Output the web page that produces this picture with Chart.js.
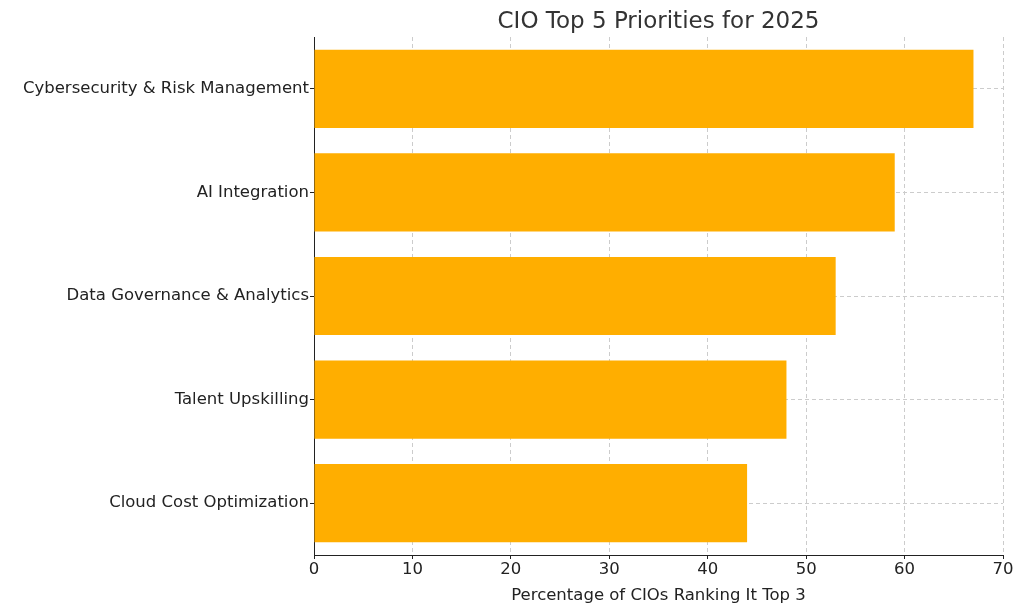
<!DOCTYPE html>
<html><head><meta charset="utf-8">
<script src="https://cdn.jsdelivr.net/npm/chart.js@4"></script>
<style>html,body{margin:0;padding:0;background:#fff}#w{width:1024px;height:610px}</style>
</head><body><div id="w"><canvas id="c"></canvas></div>
<script>
const categories = ["Cybersecurity & Risk Management","AI Integration","Data Governance & Analytics","Talent Upskilling","Cloud Cost Optimization"];
const values = [67, 59, 53, 48, 44];
const xTicks = [0,10,20,30,40,50,60,70];
const chartTitle = 'CIO Top 5 Priorities for 2025';
const F = "'DejaVu Sans', sans-serif";
const titlePlugin = { id: 'tp', afterDraw(ch) {
  const c = ch.ctx, a = ch.chartArea;
  c.save(); c.font = "23px " + F; c.fillStyle = '#333'; c.textAlign = 'center'; c.textBaseline = 'alphabetic';
  c.fillText(chartTitle, (a.left + a.right) / 2, 28); c.restore(); } };
new Chart(document.getElementById('c'), {
  type: 'bar',
  data: { labels: categories, datasets: [{ data: values, backgroundColor: '#FFAE00', borderWidth: 0, categoryPercentage: 0.755, barPercentage: 1 }] },
  plugins: [titlePlugin],
  options: {
    indexAxis: 'y', responsive: true, maintainAspectRatio: false, animation: false,
    layout: { padding: { top: 37, right: 21, left: 0, bottom: 0 } },
    plugins: { legend: { display: false }, tooltip: { enabled: false }, title: { display: false } },
    scales: {
      x: { min: 0, max: 70, afterBuildTicks: a => { a.ticks = xTicks.map(v => ({ value: v })); },
        afterFit: s => { s.height = 55; },
        ticks: { color: '#222', font: { family: F, size: 16.5 }, padding: 1 },
        grid: { color: '#ccc', tickColor: '#222', tickLength: 4 },
        border: { color: '#222', width: 1, dash: [4, 3] },
        title: { display: true, text: 'Percentage of CIOs Ranking It Top 3', color: '#222', font: { family: F, size: 16.5 }, padding: { top: 1 } } },
      y: { afterFit: s => { s.width = 314; },
        ticks: { color: '#222', font: { family: F, size: 16.5 }, padding: 1 },
        grid: { color: '#ccc', offset: false, tickColor: '#222', tickLength: 4 },
        border: { color: '#222', width: 1, dash: [4, 3] } }
    }
  }
});
</script></body></html>
